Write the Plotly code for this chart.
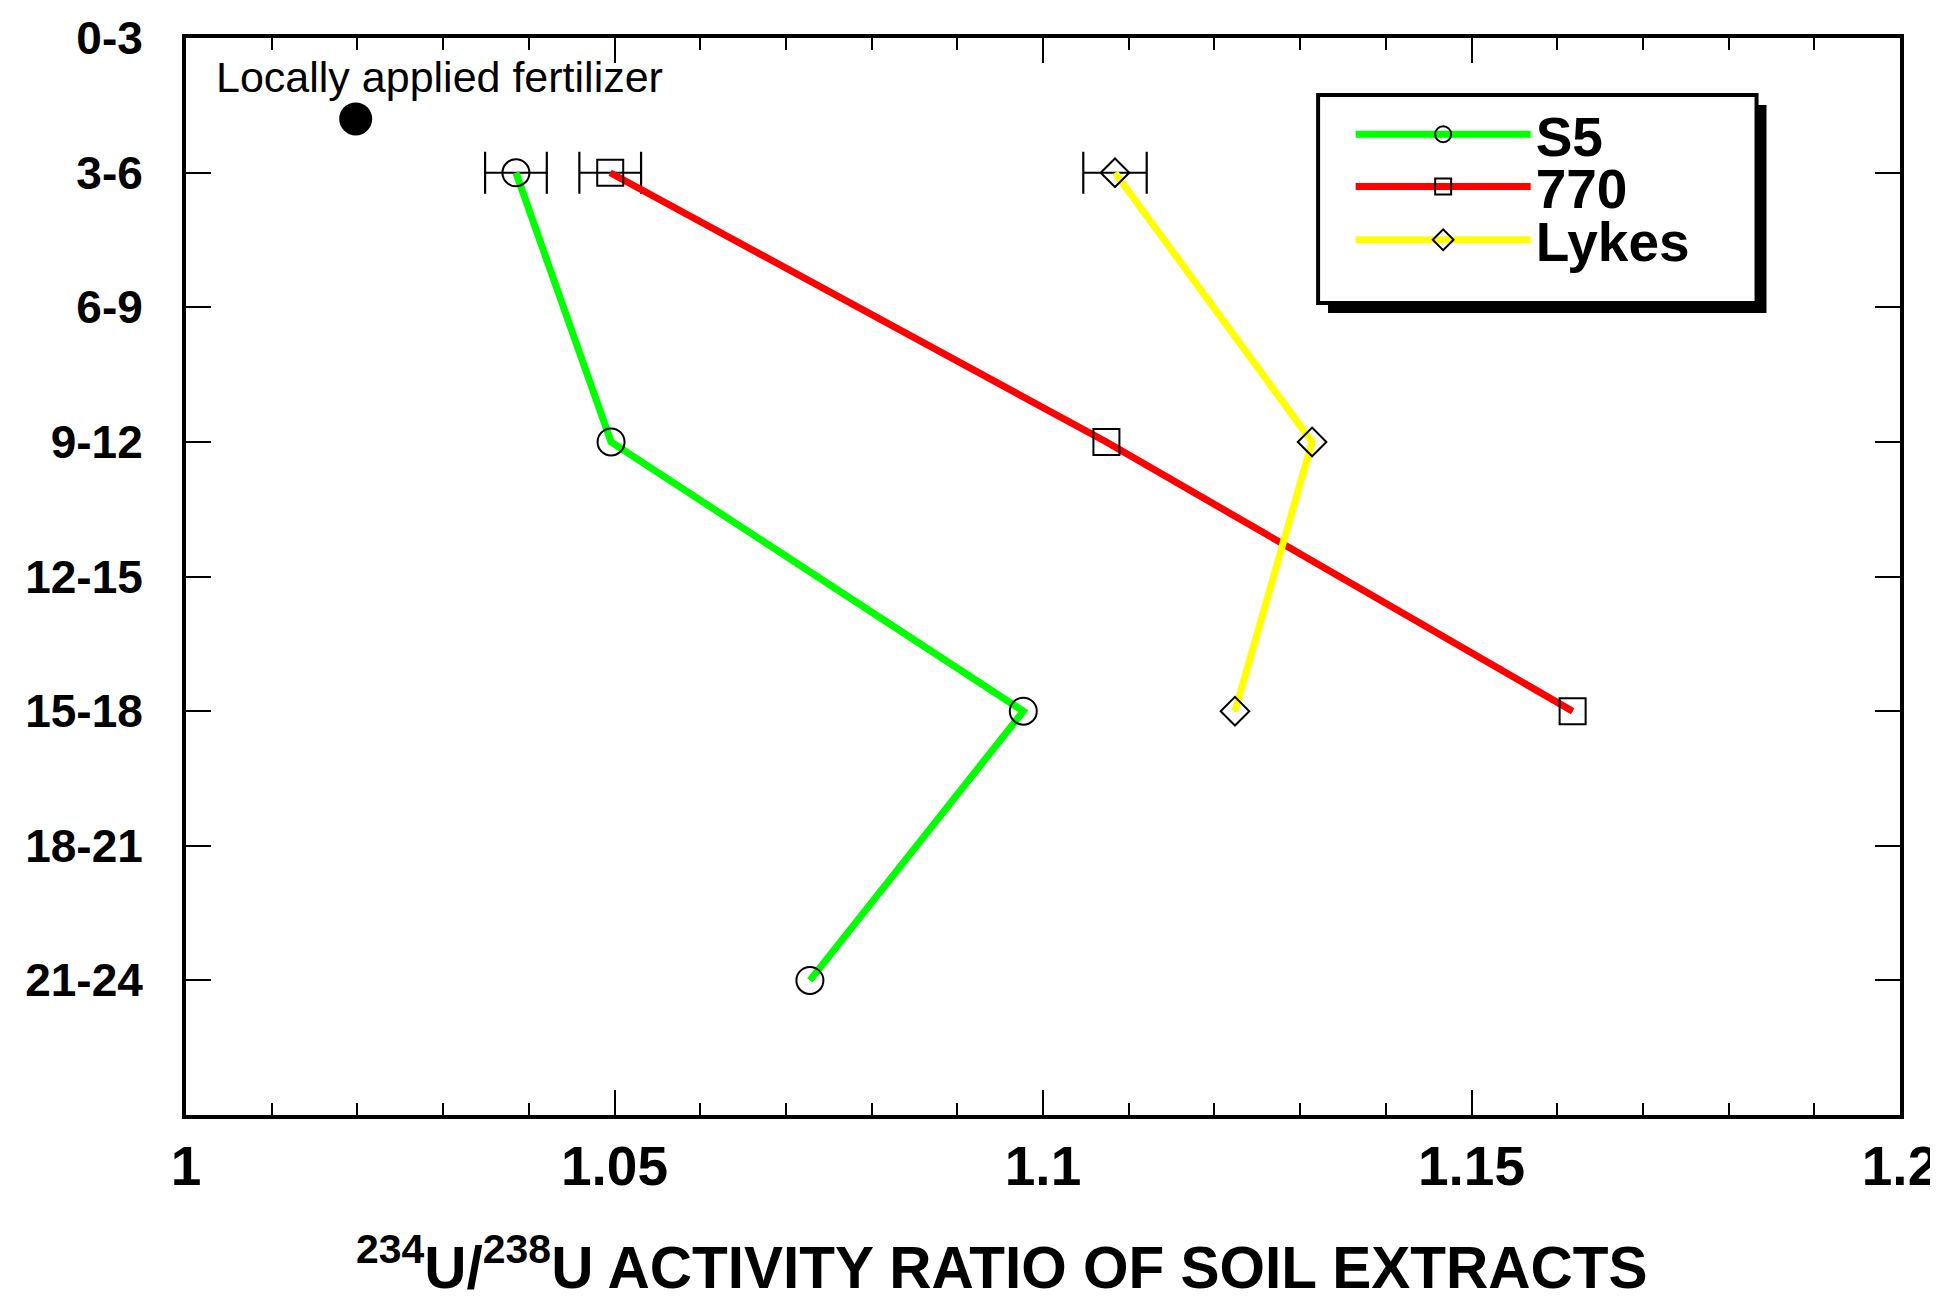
import plotly.graph_objects as go

# ---------------- data ----------------
depth_labels = ["0-3", "3-6", "6-9", "9-12", "12-15", "15-18", "18-21", "21-24"]
depth_pos = [0, 1, 2, 3, 4, 5, 6, 7]

x_tick_vals = [1.0, 1.05, 1.1, 1.15, 1.2]
x_tick_text = ["1", "1.05", "1.1", "1.15", "1.2"]

s5_depth = [1, 3, 5, 7]
s5_ratio = [1.0385, 1.0496, 1.0977, 1.0728]
s5_err_top = [0.0036]

r770_depth = [1, 3, 5]
r770_ratio = [1.0495, 1.1074, 1.1618]
r770_err_top = [0.0036]

lykes_depth = [1, 3, 5]
lykes_ratio = [1.1084, 1.1314, 1.1224]
lykes_err_top = [0.0037]

fert_ratio = [1.0198]
fert_depth = [0.6]

series_names = ["S5", "770", "Lykes"]
series_colors = ["#00ff00", "#ff0000", "#ffff00"]
series_symbols = ["circle-open", "square-open", "diamond-open"]
series_sizes = [27, 26, 22]

FONT = "Liberation Sans, Arial, Helvetica, sans-serif"

fig = go.Figure()

series = [
    (s5_ratio, s5_depth, s5_err_top),
    (r770_ratio, r770_depth, r770_err_top),
    (lykes_ratio, lykes_depth, lykes_err_top),
]
legend_ids = ["legend", "legend2", "legend3"]

for i, (xs, ys, errs) in enumerate(series):
    # thin black line underneath
    fig.add_trace(go.Scatter(
        x=xs, y=ys, mode="lines",
        line=dict(color="black", width=1.5),
        showlegend=False, hoverinfo="skip",
    ))
    # error bar on the shallowest sample
    fig.add_trace(go.Scatter(
        x=xs[:1], y=ys[:1], mode="markers",
        marker=dict(size=1, color="rgba(0,0,0,0)"),
        error_x=dict(type="data", array=errs, symmetric=True,
                     color="black", thickness=2.2, width=21),
        showlegend=False, hoverinfo="skip",
    ))
    # thick coloured line with open markers
    fig.add_trace(go.Scatter(
        x=xs, y=ys, mode="lines+markers", name=series_names[i],
        line=dict(color=series_colors[i], width=7),
        marker=dict(symbol=series_symbols[i], size=series_sizes[i], color="black",
                    line=dict(color="black", width=2)),
        legend=legend_ids[i],
    ))

fig.add_trace(go.Scatter(
    x=fert_ratio, y=fert_depth, mode="markers",
    marker=dict(symbol="circle", size=33, color="black"),
    showlegend=False,
))

fig.add_annotation(
    x=1.0033, y=0.285, xref="x", yref="y", xanchor="left", yanchor="middle",
    text="Locally applied fertilizer", showarrow=False,
    font=dict(family=FONT, size=43, color="black"),
)

# x-axis title with superscripts
fig.add_annotation(
    x=0.476, y=-0.174, xref="paper", yref="paper", xanchor="center", yanchor="bottom",
    text="<b><sup>234</sup>U/<sup>238</sup>U ACTIVITY RATIO OF SOIL EXTRACTS</b>",
    showarrow=False, font=dict(family=FONT, size=58.5, color="black"),
)

# legend box with drop shadow
box_x0, box_x1, box_y0, box_y1 = 0.6605, 0.9163, 0.7539, 0.9471
fig.add_shape(type="rect", xref="paper", yref="paper",
              x0=box_x0 + 0.0058, x1=box_x1 + 0.0058,
              y0=box_y0 - 0.0093, y1=box_y1 - 0.0093,
              fillcolor="black", line=dict(color="black", width=0), layer="above")
fig.add_shape(type="rect", xref="paper", yref="paper",
              x0=box_x0, x1=box_x1, y0=box_y0, y1=box_y1,
              fillcolor="white", line=dict(color="black", width=4), layer="above")

legend_common = dict(
    xanchor="left", yanchor="middle", bgcolor="rgba(0,0,0,0)", borderwidth=0,
    itemwidth=175, font=dict(family=FONT, size=55, color="black", weight="bold"),
)
legend_ys = [0.9104, 0.862, 0.8124]
legend_x = 0.6795
fig.update_layout(
    legend=dict(x=legend_x, y=legend_ys[0], **legend_common),
    legend2=dict(x=legend_x, y=legend_ys[1], **legend_common),
    legend3=dict(x=legend_x, y=legend_ys[2], **legend_common),
)

fig.update_xaxes(
    range=[1.0, 1.2], tickvals=x_tick_vals, ticktext=x_tick_text,
    ticks="inside", ticklen=25, tickwidth=2, tickcolor="black",
    minor=dict(dtick=0.01, ticks="inside", ticklen=12, tickwidth=2, tickcolor="black"),
    showline=True, linewidth=4, linecolor="black", mirror="ticks",
    showgrid=False, zeroline=False,
    tickfont=dict(family=FONT, size=55, color="black", weight="bold"),
    ticklabelstandoff=0,
)
fig.update_yaxes(
    range=[8, -0.001], tickvals=depth_pos, ticktext=depth_labels,
    ticks="inside", ticklen=25, tickwidth=2, tickcolor="black",
    showline=True, linewidth=4, linecolor="black", mirror="ticks",
    showgrid=False, zeroline=False,
    tickfont=dict(family=FONT, size=46, color="black", weight="bold"),
    ticklabelstandoff=30,
)

fig.update_layout(
    width=1938, height=1296,
    margin=dict(l=178, r=46, t=30, b=189, autoexpand=False),
    paper_bgcolor="white", plot_bgcolor="white",
    font=dict(family=FONT, color="black"),
)

fig.write_html("out.html")
